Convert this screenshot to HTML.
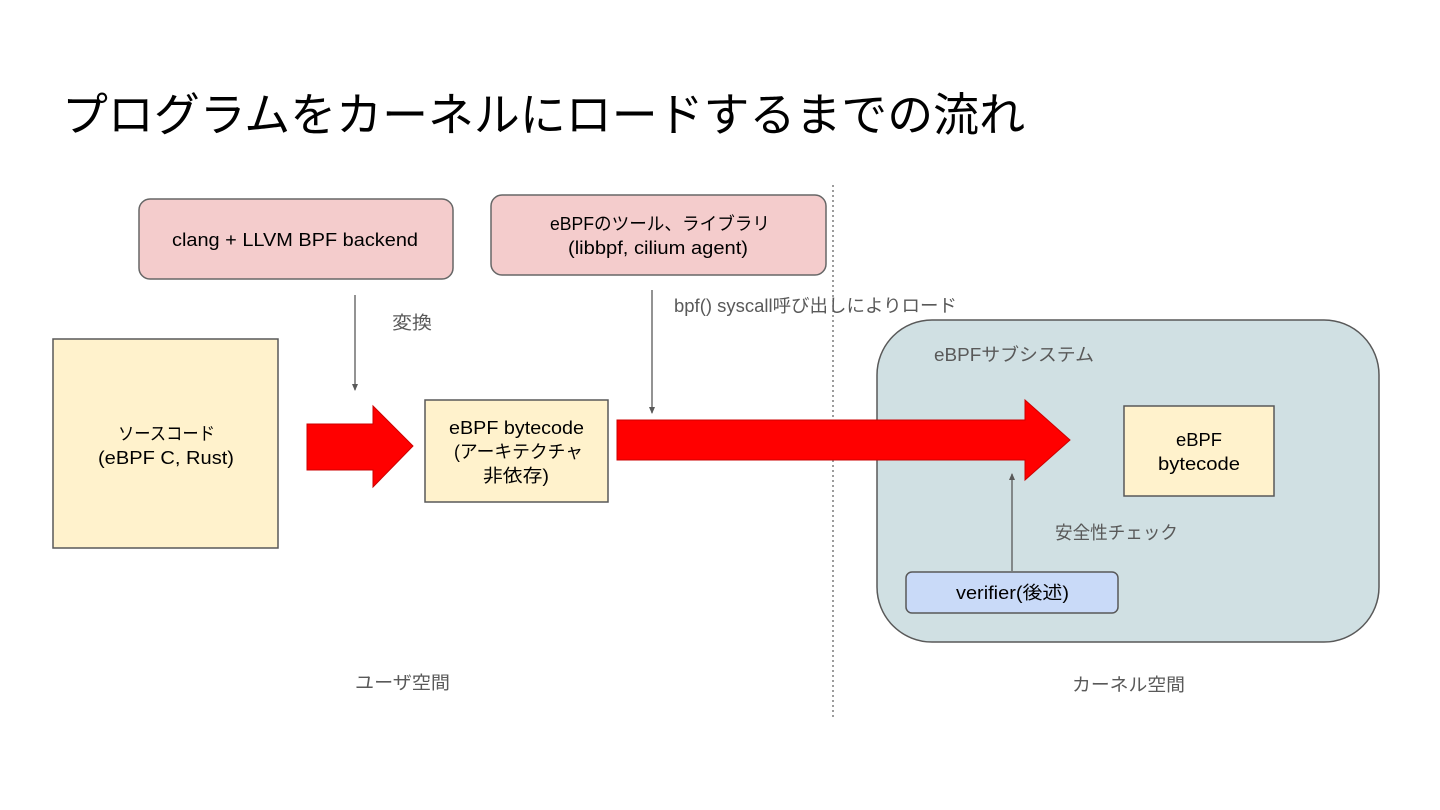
<!DOCTYPE html>
<html><head><meta charset="utf-8"><style>
html,body{margin:0;padding:0;background:#fff;}
svg{display:block;}
text{font-family:"Liberation Sans","Noto Sans CJK JP",sans-serif;}
</style></head><body>
<svg width="1440" height="810" viewBox="0 0 1440 810" xmlns="http://www.w3.org/2000/svg">
<defs>
<marker id="ah" markerWidth="8" markerHeight="8" refX="6" refY="4" orient="auto" markerUnits="userSpaceOnUse">
<path d="M0,1 L7,4 L0,7 Z" fill="#595959"/></marker>
</defs>
<text x="62" y="131" font-size="46" fill="#000" textLength="963" lengthAdjust="spacingAndGlyphs">プログラムをカーネルにロードするまでの流れ</text>

<line x1="833" y1="185" x2="833" y2="720" stroke="#666" stroke-width="1.3" stroke-dasharray="2,3"/>

<rect x="877" y="320" width="502" height="322" rx="55" fill="#d0e0e3" stroke="#595959" stroke-width="1.5"/>

<rect x="139" y="199" width="314" height="80" rx="11" fill="#f4cccc" stroke="#666" stroke-width="1.5"/>
<text x="172" y="246" font-size="18" fill="#000" textLength="246" lengthAdjust="spacingAndGlyphs">clang + LLVM BPF backend</text>

<rect x="491" y="195" width="335" height="80" rx="11" fill="#f4cccc" stroke="#666" stroke-width="1.5"/>
<text x="550" y="230" font-size="18" fill="#000" textLength="220" lengthAdjust="spacingAndGlyphs">eBPFのツール、ライブラリ</text>
<text x="568" y="254" font-size="18" fill="#000" textLength="180" lengthAdjust="spacingAndGlyphs">(libbpf, cilium agent)</text>

<rect x="53" y="339" width="225" height="209" fill="#fff2cc" stroke="#595959" stroke-width="1.5"/>
<text x="118" y="440" font-size="18" fill="#000" textLength="97" lengthAdjust="spacingAndGlyphs">ソースコード</text>
<text x="98" y="464" font-size="18" fill="#000" textLength="136" lengthAdjust="spacingAndGlyphs">(eBPF C, Rust)</text>

<path d="M307,424 L373,424 L373,406 L413,446 L373,487 L373,470 L307,470 Z" fill="#ff0000" stroke="#c00" stroke-width="1"/>

<rect x="425" y="400" width="183" height="102" fill="#fff2cc" stroke="#595959" stroke-width="1.5"/>
<text x="449" y="434" font-size="18" fill="#000" textLength="135" lengthAdjust="spacingAndGlyphs">eBPF bytecode</text>
<text x="454" y="458" font-size="18" fill="#000" textLength="129" lengthAdjust="spacingAndGlyphs">(アーキテクチャ</text>
<text x="483" y="482" font-size="18" fill="#000" textLength="66" lengthAdjust="spacingAndGlyphs">非依存)</text>

<path d="M617,420 L1025,420 L1025,400 L1070,440 L1025,480 L1025,460 L617,460 Z" fill="#ff0000" stroke="#c00" stroke-width="1"/>

<rect x="1124" y="406" width="150" height="90" fill="#fff2cc" stroke="#595959" stroke-width="1.5"/>
<text x="1176" y="446" font-size="18" fill="#000" textLength="46" lengthAdjust="spacingAndGlyphs">eBPF</text>
<text x="1158" y="470" font-size="18" fill="#000" textLength="82" lengthAdjust="spacingAndGlyphs">bytecode</text>

<rect x="906" y="572" width="212" height="41" rx="6" fill="#c9daf8" stroke="#595959" stroke-width="1.5"/>
<text x="956" y="599" font-size="18" fill="#000" textLength="113" lengthAdjust="spacingAndGlyphs">verifier(後述)</text>

<line x1="355" y1="295" x2="355" y2="390" stroke="#595959" stroke-width="1.3" marker-end="url(#ah)"/>
<line x1="652" y1="290" x2="652" y2="413" stroke="#595959" stroke-width="1.3" marker-end="url(#ah)"/>
<line x1="1012" y1="571" x2="1012" y2="474" stroke="#595959" stroke-width="1.3" marker-end="url(#ah)"/>

<text x="392" y="329" font-size="18" fill="#595959" textLength="40" lengthAdjust="spacingAndGlyphs">変換</text>
<text x="674" y="312" font-size="18" fill="#595959" textLength="283" lengthAdjust="spacingAndGlyphs">bpf() syscall呼び出しによりロード</text>
<text x="934" y="361" font-size="18" fill="#595959" textLength="160" lengthAdjust="spacingAndGlyphs">eBPFサブシステム</text>
<text x="1055" y="539" font-size="18" fill="#595959" textLength="123" lengthAdjust="spacingAndGlyphs">安全性チェック</text>
<text x="355" y="689" font-size="18" fill="#595959" textLength="95" lengthAdjust="spacingAndGlyphs">ユーザ空間</text>
<text x="1072" y="691" font-size="18" fill="#595959" textLength="113" lengthAdjust="spacingAndGlyphs">カーネル空間</text>
</svg>
</body></html>
